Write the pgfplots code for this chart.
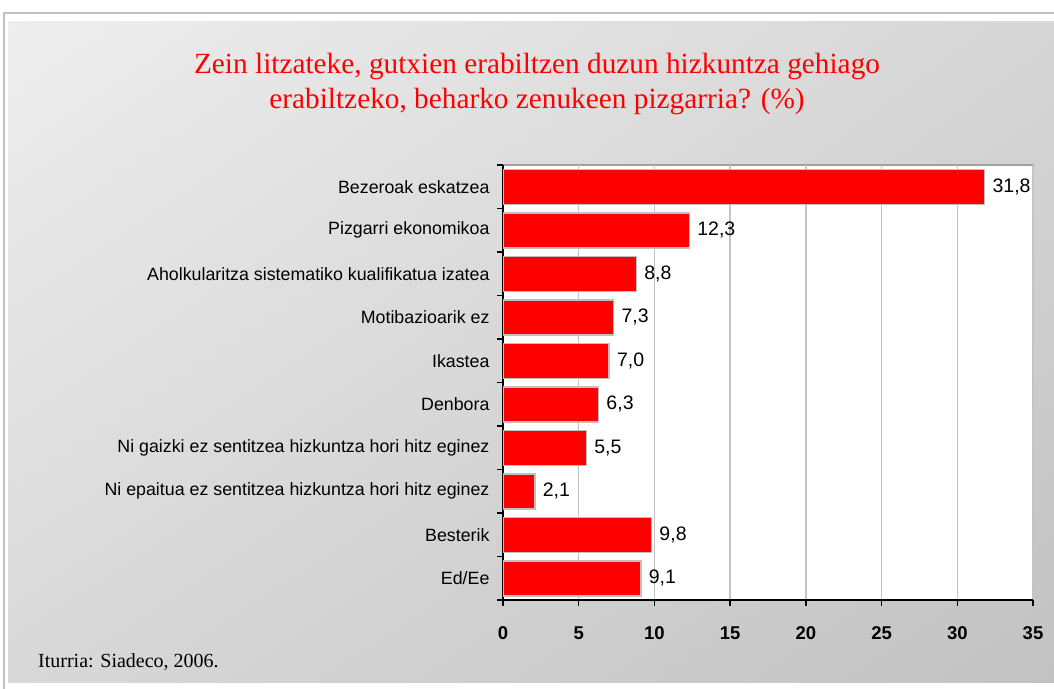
\documentclass[border=0pt]{standalone}
\usepackage{pgfplots}
\pgfplotsset{compat=1.18}
\usetikzlibrary{shadings}
\usepackage{fontspec}
\setmainfont{Liberation Sans}
\newfontfamily\titlefont{Liberation Serif}
\definecolor{barred}{HTML}{FF0000}
\definecolor{frameg}{HTML}{C0C0C0}
\definecolor{gridg}{HTML}{C4C4C4}
\definecolor{axisg}{HTML}{A0A0A0}
\definecolor{bgTL}{HTML}{EEEEEE}
\definecolor{bgTR}{HTML}{D6D6D6}
\definecolor{bgBL}{HTML}{D8D8D8}
\definecolor{bgBR}{HTML}{C2C2C2}
\begin{document}
\begin{tikzpicture}[x=1pt,y=1pt]
\useasboundingbox (0,0) rectangle (1054,688);
\fill[white] (0,0) rectangle (1054,688);
\draw[frameg, line width=1.5pt] (4,-20) rectangle (1080,675);
\shade[upper left=bgTL, upper right=bgTR, lower left=bgBL, lower right=bgBR] (8,6) rectangle (1054,666);
\node[font=\titlefont\fontsize{29.3}{35}\selectfont, text=barred, align=center] at (537,604) {Zein litzateke, gutxien erabiltzen duzun hizkuntza gehiago\\erabiltzeko, beharko zenukeen pizgarria? (\%)};
\node[anchor=west, font=\titlefont\fontsize{20}{22}\selectfont, inner sep=0pt] at (38,26) {Iturria: Siadeco, 2006.};
\begin{axis}[
  at={(503pt,88pt)}, anchor=south west,
  scale only axis, width=530pt, height=435pt,
  xmin=0, xmax=35, ymin=-0.5, ymax=9.5, y dir=reverse,
  xbar, bar width=35pt,
  /pgf/number format/assume math mode=true,
  axis x line*=bottom, axis y line*=left,
  axis line style={black, line width=1.5pt, -},
  axis background/.style={fill=white, draw=axisg, line width=2pt},
  xtick={0,5,...,35},
  ytick={0,...,9},
  yticklabels={Bezeroak eskatzea, Pizgarri ekonomikoa, Aholkularitza sistematiko kualifikatua izatea, Motibazioarik ez, Ikastea, Denbora, Ni gaizki ez sentitzea hizkuntza hori hitz eginez, Ni epaitua ez sentitzea hizkuntza hori hitz eginez, Besterik, Ed/Ee},
  minor ytick={-0.5,0.5,...,9.5},
  tick align=outside,
  major tick length=6pt, minor tick length=6pt,
  major x tick style={black, line width=1.5pt},
  major y tick style={draw=none},
  minor y tick style={black, line width=1.5pt},
  xmajorgrids, grid style={gridg, line width=1.5pt},
  yticklabel style={font=\fontsize{17.8}{19}\selectfont, xshift=-4pt},
  xticklabel style={font=\bfseries\fontsize{18.5}{20}\selectfont, text height=13pt, text depth=0pt, yshift=-17pt},
  nodes near coords={\pgfmathprintnumber[fixed,fixed zerofill,precision=1,use comma]{\pgfplotspointmeta}},
  every node near coord/.append style={anchor=west, font=\fontsize{19.5}{21}\selectfont, text=black, xshift=4pt},
]
\addplot[fill=barred, draw=frameg, line width=1.5pt] coordinates {
(31.8,0) (12.3,1) (8.8,2) (7.3,3) (7.0,4) (6.3,5) (5.5,6) (2.1,7) (9.8,8) (9.1,9)};
\end{axis}
\end{tikzpicture}
\end{document}
